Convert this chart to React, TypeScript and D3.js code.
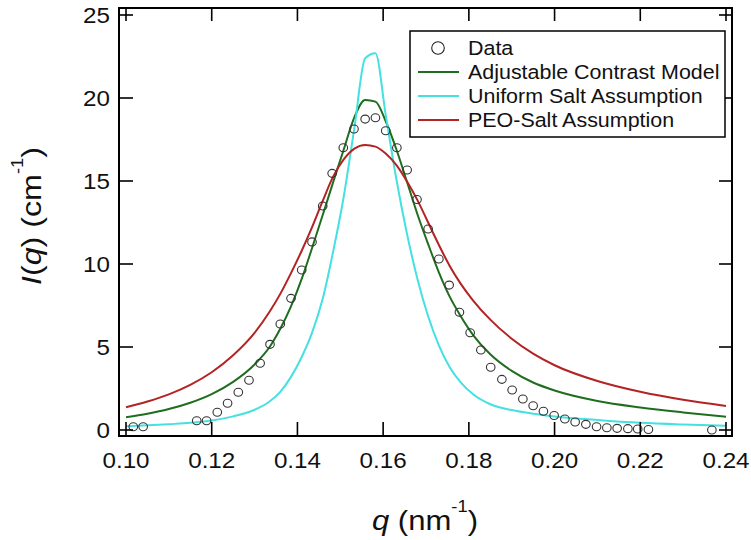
import React from "react";
import * as d3 from "d3";

// ---- data ----
const dataQ = [0.1017, 0.1040, 0.1165, 0.1188, 0.1213, 0.1237, 0.1262, 0.1287, 0.1313, 0.1336, 0.1360, 0.1385, 0.1410, 0.1434, 0.1459, 0.1481, 0.1507, 0.1532, 0.1558, 0.1582, 0.1606, 0.1632, 0.1656, 0.1679, 0.1705, 0.1730, 0.1754, 0.1778, 0.1803, 0.1828, 0.1851, 0.1877, 0.1901, 0.1926, 0.1950, 0.1974, 0.1999, 0.2024, 0.2048, 0.2073, 0.2098, 0.2122, 0.2146, 0.2171, 0.2194, 0.2219, 0.2367];
const dataI = [0.2, 0.2, 0.56, 0.56, 1.07, 1.61, 2.27, 3.0, 4.02, 5.16, 6.39, 7.93, 9.64, 11.33, 13.49, 15.46, 17.0, 18.13, 18.73, 18.81, 18.03, 17.0, 15.66, 13.89, 12.11, 10.3, 8.73, 7.09, 5.86, 4.82, 3.78, 3.05, 2.41, 1.87, 1.46, 1.13, 0.87, 0.66, 0.48, 0.34, 0.2, 0.14, 0.1, 0.08, 0.06, 0.03, 0.0];

const curveQ = [0.100, 0.105, 0.110, 0.115, 0.120, 0.125, 0.130, 0.1335, 0.136, 0.1385, 0.141, 0.1434, 0.1459, 0.1483, 0.1508, 0.1533, 0.1558, 0.1582, 0.1606, 0.1631, 0.1655, 0.168, 0.1705, 0.173, 0.1755, 0.178, 0.181, 0.185, 0.19, 0.195, 0.20, 0.21, 0.22, 0.23, 0.24];
const adjustable = [0.77, 0.98, 1.26, 1.64, 2.16, 2.9, 3.95, 5.0, 6.1, 7.45, 9.1, 10.95, 12.95, 14.9, 16.9, 18.85, 19.88, 19.78, 18.6, 16.9, 15.0, 13.0, 11.2, 9.5, 8.05, 6.9, 5.72, 4.56, 3.56, 2.86, 2.38, 1.75, 1.36, 1.06, 0.8];
const uniformSalt = [0.22, 0.28, 0.35, 0.43, 0.57, 0.82, 1.22, 1.72, 2.3, 3.2, 4.4, 5.85, 7.9, 10.7, 14.05, 18.22, 22.39, 22.69, 18.98, 15.09, 11.9, 9.1, 6.85, 5.1, 3.8, 2.9, 2.15, 1.55, 1.2, 0.98, 0.82, 0.6, 0.43, 0.33, 0.26];
const peoSalt = [1.37, 1.72, 2.15, 2.72, 3.48, 4.5, 5.85, 7.12, 8.2, 9.45, 10.8, 12.2, 13.8, 15.25, 16.3, 16.95, 17.17, 17.07, 16.65, 15.95, 15.0, 13.85, 12.5, 11.15, 9.9, 8.85, 7.8, 6.65, 5.5, 4.6, 3.9, 2.95, 2.3, 1.82, 1.45];

const xTicks = [0.10, 0.12, 0.14, 0.16, 0.18, 0.20, 0.22, 0.24];
const yTicks = [0, 5, 10, 15, 20, 25];

const seriesNames = ["Data", "Adjustable Contrast Model", "Uniform Salt Assumption", "PEO-Salt Assumption"];
const seriesColors = ["#333333", "#1f6e1f", "#45e0e0", "#b32323"];

const FONT = "'Liberation Sans', Arial, Helvetica, sans-serif";

export default function App() {
  const x = d3.scaleLinear().domain([0.10, 0.24]).range([126, 726]);
  const y = d3.scaleLinear().domain([0, 25]).range([430, 15]);
  const frame = { l: 119, r: 732, t: 8, b: 436 };

  const line = d3
    .line<number>()
    .x((_, i) => x(curveQ[i]))
    .y((d) => y(d))
    .curve(d3.curveMonotoneX);

  const curves = [adjustable, uniformSalt, peoSalt];

  const legend = { x: 410, y: 31, w: 315, h: 106, rows: [48, 72, 96, 120] };

  return (
    <svg
      width={751}
      height={540}
      style={{ position: "absolute", left: 0, top: 0, background: "#fff" }}
      fontFamily={FONT}
    >
      <rect x={0} y={0} width={751} height={540} fill="#fff" />
      {/* model curves */}
      {curves.map((c, k) => (
        <path key={k} d={line(c) || ""} fill="none" stroke={seriesColors[k + 1]} strokeWidth={2} />
      ))}
      {/* data points */}
      {dataQ.map((q, i) => (
        <ellipse key={i} cx={x(q)} cy={y(dataI[i])} rx={4.3} ry={4.0} fill="none" stroke={seriesColors[0]} strokeWidth={1.1} />
      ))}
      {/* frame */}
      <rect x={frame.l} y={frame.t} width={frame.r - frame.l} height={frame.b - frame.t} fill="none" stroke="#000" strokeWidth={2} />
      {/* ticks */}
      {xTicks.map((t) => (
        <g key={"xt" + t}>
          <line x1={x(t)} x2={x(t)} y1={frame.b} y2={frame.b - 14} stroke="#000" strokeWidth={1.6} />
          <line x1={x(t)} x2={x(t)} y1={frame.t} y2={frame.t + 13} stroke="#000" strokeWidth={1.6} />
          <g transform={`translate(${x(t)},468) scale(1.1,1)`}>
            <text textAnchor="middle" fontSize={22} fill="#111">{d3.format(".2f")(t)}</text>
          </g>
        </g>
      ))}
      {yTicks.map((t) => (
        <g key={"yt" + t}>
          <line x1={frame.l} x2={frame.l + 14} y1={y(t)} y2={y(t)} stroke="#000" strokeWidth={1.6} />
          <line x1={frame.r} x2={frame.r - 13} y1={y(t)} y2={y(t)} stroke="#000" strokeWidth={1.6} />
          <g transform={`translate(110,${y(t) + 8}) scale(1.1,1)`}>
            <text textAnchor="end" fontSize={22} fill="#111">{t}</text>
          </g>
        </g>
      ))}
      {/* axis titles */}
      <g transform="translate(425,530) scale(1.15,1)">
        <text textAnchor="middle" fontSize={27} fill="#111">
          <tspan fontStyle="italic">q</tspan>
          <tspan> (nm</tspan>
          <tspan dy={-18} fontSize={16}>-1</tspan>
          <tspan dy={18}>)</tspan>
        </text>
      </g>
      <g transform="translate(41,216) rotate(-90) scale(1.15,1)">
        <text textAnchor="middle" fontSize={28} fill="#111">
          <tspan fontStyle="italic">I</tspan>
          <tspan>(</tspan>
          <tspan fontStyle="italic">q</tspan>
          <tspan>) (cm</tspan>
          <tspan dy={-18} fontSize={16}>-1</tspan>
          <tspan dy={18}>)</tspan>
        </text>
      </g>
      {/* legend */}
      <rect x={legend.x} y={legend.y} width={legend.w} height={legend.h} fill="#fff" stroke="#000" strokeWidth={1.5} />
      {seriesNames.map((name, i) => (
        <g key={name}>
          {i === 0 ? (
            <circle cx={438} cy={legend.rows[i]} r={6.3} fill="none" stroke="#222" strokeWidth={1.1} />
          ) : (
            <line x1={418} x2={459} y1={legend.rows[i]} y2={legend.rows[i]} stroke={seriesColors[i]} strokeWidth={2} />
          )}
          <g transform={`translate(468,${legend.rows[i] + 7}) scale(1.1,1)`}>
            <text fontSize={19.5} fill="#111">{name}</text>
          </g>
        </g>
      ))}
    </svg>
  );
}
